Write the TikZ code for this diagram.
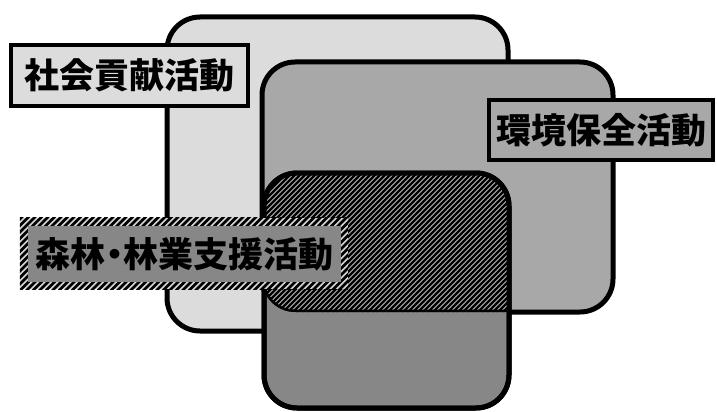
\documentclass[tikz,border=0pt]{standalone}
\usepackage{fontspec}
\newfontfamily\cjk{Noto Sans CJK JP Black}
\definecolor{lightbg}{HTML}{DCDCDC}
\definecolor{midbg}{HTML}{A8A8A8}
\definecolor{darkbg}{HTML}{878787}
\definecolor{hatchbg}{HTML}{B4B4B4}
\definecolor{hatchlight}{HTML}{D4D4D4}
\tikzset{
  frame/.style={draw=black, line width=5pt, rounded corners=33pt},
  lbl/.style={draw=black, line width=4pt, inner sep=0pt, text=black,
    font=\cjk\fontsize{35}{35}\selectfont},
  stripe/.style={draw=black, line width=2.2pt},
  bandstripe/.style={draw=black, line width=2.6pt},
}
\begin{document}
\begin{tikzpicture}[x=1pt,y=-1pt]
\useasboundingbox[fill=white] (0,0) rectangle (717,412);
% social contribution area
\draw[frame, fill=lightbg] (167,17) rectangle (508,331);
\node[lbl, fill=lightbg, minimum width=237pt, minimum height=61pt] (social) at (129.5,75.5) {社会貢献活動};
% environment area
\draw[frame, fill=midbg] (262,62) rectangle (613,312);
% forest area
\draw[frame, fill=darkbg] (264,173) rectangle (509,408);
\begin{scope}
  \clip[rounded corners=33pt] (264,173) rectangle (509,408);
  \clip[rounded corners=33pt] (262,62) rectangle (613,312);
  \fill[hatchbg] (250,160) rectangle (520,320);
  \foreach \a in {60,65,...,540} \draw[stripe] (\a,330) -- ++(180,-180);
  \draw[frame] (262,62) rectangle (613,312);
\end{scope}
\draw[frame] (264,173) rectangle (509,408);
% environment label
\node[lbl, fill=midbg, minimum width=224pt, minimum height=60pt] (env) at (601,130) {環境保全活動};
% forest label
\node[inner sep=0pt, minimum width=328pt, minimum height=71pt] (forestbox) at (184,253.5) {};
\begin{scope}
  \clip (forestbox.south west) rectangle (forestbox.north east);
  \fill[hatchlight] (forestbox.south west) rectangle (forestbox.north east);
  \foreach \a in {-100,-93.5,...,360} \draw[bandstripe] (\a,300) -- ++(100,-100);
\end{scope}
\node[fill=darkbg, inner sep=0pt, minimum width=313pt, minimum height=56pt, text=black,
  font=\cjk\fontsize{35}{35}\selectfont] (forest) at (184.5,254) {森林\makebox[0.5em]{・}林業支援活動};
\end{tikzpicture}
\end{document}
